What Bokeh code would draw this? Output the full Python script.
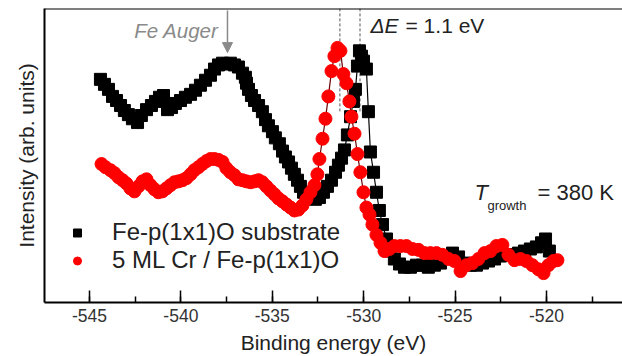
from bokeh.plotting import figure
from bokeh.models import (Range1d, SingleIntervalTicker, FixedTicker, Span, Label,
                          Arrow, NormalHead, Legend, LegendItem, PrintfTickFormatter)
from bokeh.embed import file_html
from bokeh.resources import INLINE

FONT = "Liberation Sans"

# Fe-p(1x1)O substrate (black squares)
black_ev = [-544.40, -544.18, -543.96, -543.74, -543.52, -543.30, -543.09, -542.87, -542.65, -542.37,
            -542.16, -541.88, -541.61, -541.39, -541.17, -540.95, -540.73, -540.51, -540.30, -540.02,
            -539.75, -539.47, -539.20, -538.93, -538.65, -538.38, -538.16, -537.94, -537.72, -537.51,
            -537.29, -537.07, -536.85, -536.63, -536.47, -536.41, -536.30, -536.14, -535.97, -535.75,
            -535.54, -535.37, -535.21, -534.99, -534.83, -534.61, -534.44, -534.28, -534.11, -533.95,
            -533.79, -533.62, -533.46, -533.29, -533.07, -532.86, -532.64, -532.42, -532.20, -531.98,
            -531.76, -531.54, -531.38, -531.21, -531.05, -530.89, -530.72, -530.56, -530.45, -530.34,
            -530.23, -530.12, -530.01, -529.85, -529.74, -529.63, -529.46, -529.30, -529.14, -528.97,
            -528.75, -528.53, -528.32, -528.04, -527.77, -527.44, -527.11, -526.78, -526.46, -526.13,
            -525.80, -525.47, -525.14, -524.81, -524.49, -524.16, -523.83, -523.50, -523.17, -522.84,
            -522.52, -522.19, -521.86, -521.53, -521.20, -520.88, -520.55, -520.27, -520.05, -519.84]
black_int = [7.59, 7.42, 7.25, 7.01, 6.87, 6.70, 6.53, 6.39, 6.25, 6.12,
             6.36, 6.56, 6.70, 6.84, 6.98, 7.04, 6.56, 6.63, 6.77, 6.87,
             6.98, 7.08, 7.22, 7.39, 7.56, 7.73, 7.94, 8.08, 8.14, 8.11,
             8.14, 8.08, 8.01, 7.80, 7.66, 7.46, 7.25, 7.04, 6.87, 6.70,
             6.49, 6.22, 6.01, 5.81, 5.60, 5.40, 5.15, 4.95, 4.78, 4.57,
             4.36, 4.16, 3.95, 3.75, 3.64, 3.54, 3.51, 3.57, 3.75, 3.95,
             4.16, 4.43, 4.67, 4.91, 5.19, 5.70, 6.32, 6.84, 7.25, 8.04,
             8.56, 8.38, 8.21, 7.94, 6.49, 5.12, 4.43, 3.75, 3.13, 2.65,
             2.16, 1.75, 1.48, 1.31, 1.20, 1.20, 1.27, 1.27, 1.20, 1.27,
             1.34, 1.51, 1.68, 1.55, 1.34, 1.27, 1.27, 1.34, 1.41, 1.48,
             1.58, 1.62, 1.62, 1.68, 1.75, 1.82, 1.89, 2.03, 2.16, 1.75]

# 5 ML Cr / Fe-p(1x1)O (red circles)
red_ev = [-544.34, -544.12, -543.85, -543.63, -543.41, -543.19, -542.98, -542.76, -542.54, -542.32,
          -542.10, -541.88, -541.66, -541.44, -541.23, -541.01, -540.79, -540.57, -540.35, -540.13,
          -539.91, -539.69, -539.47, -539.26, -539.04, -538.82, -538.60, -538.38, -538.16, -537.94,
          -537.72, -537.51, -537.29, -537.07, -536.85, -536.63, -536.41, -536.19, -535.97, -535.75,
          -535.54, -535.32, -535.10, -534.88, -534.66, -534.44, -534.22, -534.00, -533.79, -533.57,
          -533.35, -533.13, -532.91, -532.69, -532.53, -532.42, -532.25, -532.09, -531.93, -531.76,
          -531.60, -531.43, -531.27, -531.11, -530.94, -530.78, -530.67, -530.50, -530.34, -530.18,
          -530.01, -529.85, -529.68, -529.52, -529.30, -529.08, -528.86, -528.59, -528.32, -527.99,
          -527.66, -527.33, -527.00, -526.67, -526.35, -526.02, -525.69, -525.36, -525.03, -524.70,
          -524.38, -524.05, -523.72, -523.39, -523.06, -522.74, -522.41, -522.08, -521.75, -521.42,
          -521.09, -520.77, -520.44, -520.16, -519.89, -519.62, -519.40]
red_int = [4.71, 4.60, 4.50, 4.40, 4.26, 4.16, 4.05, 3.88, 3.78, 3.95,
           4.12, 4.19, 3.99, 3.85, 3.75, 3.78, 3.88, 3.99, 4.09, 4.12,
           4.16, 4.23, 4.36, 4.50, 4.60, 4.71, 4.81, 4.88, 4.88, 4.85,
           4.78, 4.57, 4.43, 4.33, 4.19, 4.16, 4.12, 4.09, 4.12, 4.16,
           4.09, 3.95, 3.81, 3.68, 3.54, 3.44, 3.33, 3.23, 3.13, 3.16,
           3.30, 3.51, 3.75, 3.99, 4.36, 4.88, 5.57, 6.25, 7.01, 7.87,
           8.38, 8.66, 8.56, 7.77, 7.46, 6.84, 6.32, 5.74, 5.05, 4.43,
           3.75, 3.23, 2.99, 2.65, 2.30, 2.03, 1.75, 1.82, 1.92, 1.92,
           1.92, 1.82, 1.79, 1.68, 1.68, 1.68, 1.62, 1.48, 1.41, 1.07,
           1.27, 1.34, 1.48, 1.68, 1.75, 1.92, 1.96, 1.62, 1.44, 1.48,
           1.41, 1.27, 1.13, 1.00, 1.27, 1.41, 1.44]

peak_red = -531.3
peak_black = -530.2
auger_ev = -537.45

p = figure(width=622, height=356, output_backend="svg", toolbar_location=None,
           x_range=Range1d(-547.46, -515.84), y_range=Range1d(0, 10),
           min_border_left=44, min_border_right=0, min_border_top=8, min_border_bottom=10)
p.outline_line_color = None
p.xgrid.visible = False
p.ygrid.visible = False
p.background_fill_color = "white"
p.border_fill_color = "white"

xa = p.xaxis[0]
xa.ticker = SingleIntervalTicker(interval=5, num_minor_ticks=2)
xa.formatter = PrintfTickFormatter(format="%d")
xa.major_tick_in = 12
xa.major_tick_out = 0
xa.minor_tick_in = 6
xa.minor_tick_out = 0
xa.major_tick_line_width = 1.5
xa.minor_tick_line_width = 1.5
xa.axis_line_width = 2
xa.major_label_text_font = FONT
xa.major_label_text_font_size = "17.5px"
xa.major_label_text_color = "#333333"
xa.major_label_standoff = 6
xa.axis_label = "Binding energy (eV)"
xa.axis_label_text_font = FONT
xa.axis_label_text_font_size = "21px"
xa.axis_label_text_font_style = "normal"
xa.axis_label_text_color = "#222222"
xa.axis_label_standoff = 6

ya = p.yaxis[0]
ya.ticker = FixedTicker(ticks=[])
ya.axis_line_width = 2
ya.major_tick_line_color = None
ya.minor_tick_line_color = None
ya.axis_label = "Intensity (arb. units)"
ya.axis_label_text_font = FONT
ya.axis_label_text_font_size = "21px"
ya.axis_label_text_font_style = "normal"
ya.axis_label_text_color = "#222222"
ya.axis_label_standoff = 7

p.add_layout(Span(location=10, dimension="width", line_color="black", line_width=2))

# dashed peak markers
p.segment(x0=[peak_red, peak_black], y0=[6.5, 6.5], x1=[peak_red, peak_black], y1=[10, 10],
          line_color="#555555", line_width=1, line_dash="3 2")

# data
p.line(black_ev, black_int, line_color="black", line_width=1.2)
rb = p.scatter(black_ev, black_int, marker="square", size=12, fill_color="black", line_color="black")
p.line(red_ev, red_int, line_color="#6a0000", line_width=1.2)
rr = p.scatter(red_ev, red_int, marker="circle", size=13, fill_color="#ff0000", line_color="#ff0000")

legend = Legend(items=[LegendItem(label="Fe-p(1x1)O substrate", renderers=[rb]),
                       LegendItem(label="5 ML Cr / Fe-p(1x1)O", renderers=[rr])],
                location=(23, 28), background_fill_alpha=0, border_line_color=None,
                padding=0, margin=0, spacing=0, glyph_width=20, glyph_height=27,
                label_height=27, label_standoff=25,
                label_text_font=FONT, label_text_font_size="24px", label_text_color="#222222")
p.add_layout(legend)

# annotations
p.add_layout(Arrow(end=NormalHead(size=10, fill_color="#8a8a8a", line_color="#8a8a8a"),
                   x_start=auger_ev, y_start=9.93, x_end=auger_ev, y_end=8.5,
                   line_color="#8a8a8a", line_width=1.5))
p.add_layout(Label(x=-537.94, y=9.24, text="Fe Auger", text_align="right", text_baseline="middle",
                   text_font=FONT, text_font_size="20.5px", text_font_style="italic",
                   text_color="#8a8a8a"))
p.add_layout(Label(x=-529.63, y=9.42, text="\u0394E", text_baseline="middle",
                   text_font=FONT, text_font_size="21px", text_font_style="italic",
                   text_color="#222222"))
p.add_layout(Label(x=-527.71, y=9.42, text="= 1.1 eV", text_baseline="middle",
                   text_font=FONT, text_font_size="21px", text_color="#222222"))
p.add_layout(Label(x=-523.94, y=3.75, text="T", text_baseline="middle",
                   text_font=FONT, text_font_size="22px", text_font_style="italic",
                   text_color="#222222"))
p.add_layout(Label(x=-523.23, y=3.30, text="growth", text_baseline="middle",
                   text_font=FONT, text_font_size="13px", text_color="#222222"))
p.add_layout(Label(x=-520.49, y=3.75, text="= 380 K", text_baseline="middle",
                   text_font=FONT, text_font_size="22px", text_color="#222222"))

open("out.html", "w").write(file_html(p, INLINE))
